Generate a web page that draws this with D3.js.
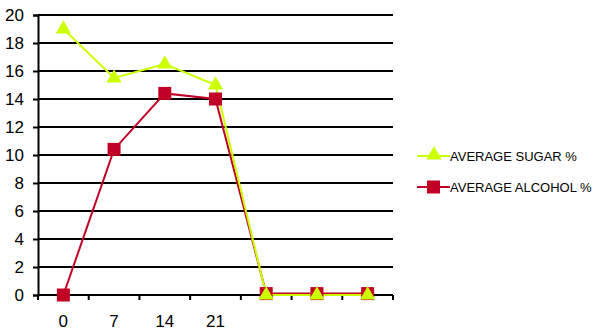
<!DOCTYPE html>
<html>
<head>
<meta charset="utf-8">
<script src="https://cdn.jsdelivr.net/npm/d3@7"></script>
<style>
  body { margin: 0; background: #fff; }
  text { font-family: "Liberation Sans", Arial, sans-serif; }
</style>
</head>
<body>
<script>
const width = 600, height = 334;

// categories (only first four are labelled in the original)
const days = ["0", "7", "14", "21", "", "", ""];
const sugar = [19, 15.5, 16.5, 15, 0, 0, 0];
const alcohol = [0, 10.4, 14.4, 14, 0.1, 0.1, 0.1];
const yTicks = [0, 2, 4, 6, 8, 10, 12, 14, 16, 18, 20];

const sugarColor = "#ccff00", alcoholColor = "#c00024";

const svg = d3.select("body")
    .append("svg")
    .attr("width", width)
    .attr("height", height);

const x = d3.scaleBand()
    .domain(d3.range(days.length))
    .range([38, 393]);

const y = d3.scaleLinear()
    .domain([0, 20])
    .range([295, 15]);

// gridlines
svg.append("g")
    .selectAll("line")
    .data(yTicks.filter(d => d > 0))
    .enter()
    .append("line")
    .attr("x1", 38).attr("x2", 393)
    .attr("y1", d => y(d)).attr("y2", d => y(d))
    .attr("stroke", "#000")
    .attr("stroke-width", 2);

// y axis
const yAxis = svg.append("g")
    .attr("transform", "translate(38,0)")
    .call(d3.axisLeft(y).tickValues(yTicks).tickSize(5).tickPadding(9).tickFormat(d3.format("d")));
yAxis.select(".domain").attr("stroke", "#000").attr("stroke-width", 2);
yAxis.selectAll(".tick line").attr("stroke", "#000").attr("stroke-width", 2);
yAxis.selectAll("text")
    .attr("font-family", "Liberation Sans, Arial, sans-serif")
    .attr("font-size", 17)
    .attr("dy", "0.3em")
    .attr("fill", "#000");

// x axis: ticks at band boundaries
const xAxisG = svg.append("g").attr("transform", "translate(0,295)");
xAxisG.append("line")
    .attr("x1", 38).attr("x2", 393)
    .attr("stroke", "#000").attr("stroke-width", 2);
xAxisG.selectAll(".xt")
    .data(d3.range(days.length + 1))
    .enter()
    .append("line")
    .attr("class", "xt")
    .attr("x1", i => 38 + i * x.step()).attr("x2", i => 38 + i * x.step())
    .attr("y1", 0).attr("y2", 5)
    .attr("stroke", "#000").attr("stroke-width", 2);
xAxisG.selectAll("text")
    .data(days)
    .enter()
    .append("text")
    .attr("x", (d, i) => x(i) + x.bandwidth() / 2)
    .attr("y", 32)
    .attr("text-anchor", "middle")
    .attr("font-size", 17)
    .attr("fill", "#000")
    .text(d => d);

const cx = i => x(i) + x.bandwidth() / 2;
const line = d3.line().x((d, i) => cx(i)).y(d => y(d));

const triangle = d3.symbol().type(d3.symbolTriangle).size(100);

// alcohol series
svg.append("path")
    .datum(alcohol)
    .attr("d", line)
    .attr("fill", "none")
    .attr("stroke", alcoholColor)
    .attr("stroke-width", 2);

// sugar series
svg.append("path")
    .datum(sugar)
    .attr("d", line)
    .attr("fill", "none")
    .attr("stroke", sugarColor)
    .attr("stroke-width", 2);

svg.selectAll(".sq")
    .data(alcohol)
    .enter()
    .append("rect")
    .attr("class", "sq")
    .attr("x", (d, i) => cx(i) - 6.5)
    .attr("y", d => y(d) - 6.5)
    .attr("width", 13).attr("height", 13)
    .attr("fill", alcoholColor);

svg.selectAll(".tri")
    .data(sugar)
    .enter()
    .append("path")
    .attr("class", "tri")
    .attr("d", triangle)
    .attr("transform", (d, i) => `translate(${cx(i)},${y(d)})`)
    .attr("fill", sugarColor);

// legend
const legend = [
    { name: "AVERAGE SUGAR %", color: sugarColor, shape: "tri" },
    { name: "AVERAGE ALCOHOL %", color: alcoholColor, shape: "sq" }
];
const lg = svg.selectAll(".lg")
    .data(legend)
    .enter()
    .append("g")
    .attr("class", "lg")
    .attr("transform", (d, i) => `translate(417,${156 + i * 31})`);
lg.append("line")
    .attr("x1", 0).attr("x2", 33)
    .attr("stroke", d => d.color).attr("stroke-width", 2);
lg.filter(d => d.shape === "tri").append("path")
    .attr("d", triangle)
    .attr("transform", "translate(17,-1)")
    .attr("fill", d => d.color);
lg.filter(d => d.shape === "sq").append("rect")
    .attr("x", 10).attr("y", -6.5).attr("width", 13).attr("height", 13)
    .attr("fill", d => d.color);
lg.append("text")
    .attr("x", 33)
    .attr("y", 5)
    .attr("font-size", 13)
    .attr("fill", "#000")
    .text(d => d.name);
</script>
</body>
</html>
